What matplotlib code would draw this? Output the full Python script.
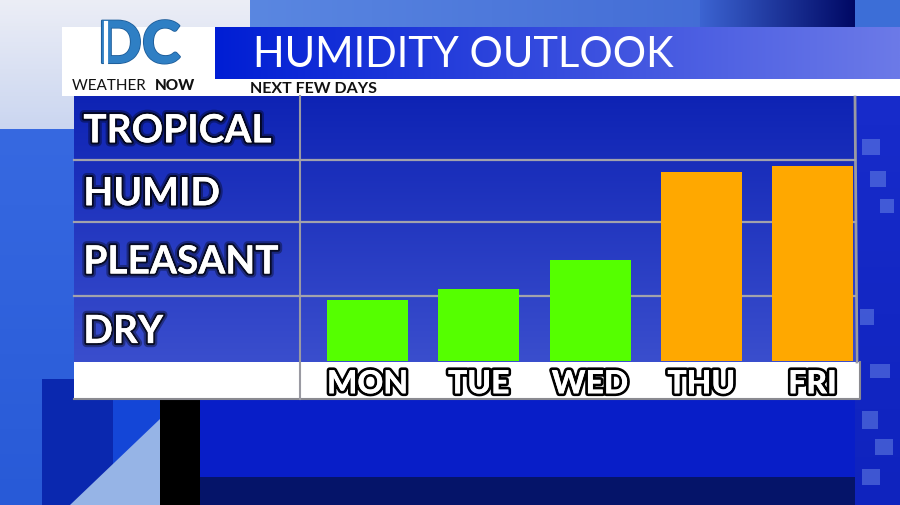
import numpy as np
import matplotlib
matplotlib.use('Agg')
import matplotlib.pyplot as plt
from matplotlib import patheffects as pe
from matplotlib.patches import Rectangle, Polygon

days = ['MON', 'TUE', 'WED', 'THU', 'FRI']
humidity = [23.0, 27.2, 38.1, 71.3, 73.6]
levels = ['DRY', 'PLEASANT', 'HUMID', 'TROPICAL']
level_edges = [0, 24.5, 52.5, 76, 100]
bar_colors = ['#55FF00', '#55FF00', '#55FF00', '#FFA800', '#FFA800']
title = 'HUMIDITY OUTLOOK'
subtitle = 'NEXT FEW DAYS'

W, H = 900, 506
fig = plt.figure(figsize=(9, 5.06), dpi=100)
bg = fig.add_axes([0, 0, 1, 1])
bg.axis('off')


def grad(x0, x1, y0, y1, c0, c1, horizontal=False, z=0):
    t = np.linspace(0, 1, 256)
    a = np.array(c0) / 255.0
    b = np.array(c1) / 255.0
    cols = a[None, :] * (1 - t[:, None]) + b[None, :] * t[:, None]
    img = cols[None, :, :] if horizontal else cols[:, None, :]
    bg.imshow(img, extent=(x0, x1, y1, y0), aspect='auto', zorder=z,
              interpolation='bilinear')


def rect(x0, y0, x1, y1, color, z=0, **kw):
    bg.add_patch(Rectangle((x0, y0), x1 - x0, y1 - y0, facecolor=color,
                           edgecolor='none', zorder=z, **kw))


# ---- background decoration ----
rect(0, 0, W, H, (12/255, 40/255, 215/255), z=0)
grad(0, 260, 0, 140, (236, 238, 246), (200, 212, 240), z=0.5)
grad(250, 855, 0, 30, (90, 135, 225), (60, 100, 210), horizontal=True, z=0.5)
grad(700, 855, 0, 30, (60, 100, 210), (0, 8, 100), horizontal=True, z=0.6)
rect(855, 0, W, 30, (60/255, 110/255, 215/255), z=0.6)
grad(0, 74, 130, 506, (55, 105, 225), (40, 90, 215), z=0.5)
rect(42, 380, 140, 506, (10/255, 40/255, 175/255), z=0.7)
rect(113, 380, 160, 506, (20/255, 70/255, 215/255), z=0.7)
bg.add_patch(Polygon([(70, 506), (160, 420), (160, 506)], closed=True,
                     facecolor=(150/255, 180/255, 230/255), edgecolor='none', zorder=0.8))
rect(160, 400, 200, 506, 'black', z=0.8)
bg.add_patch(Polygon([(200, 506), (200, 400), (855, 400), (855, 506)], closed=True,
                     facecolor=(8/255, 30/255, 200/255), edgecolor='none', zorder=0.7))
rect(200, 478, 855, 506, (5/255, 20/255, 105/255), z=0.8)
grad(855, W, 30, 506, (25, 45, 205), (15, 35, 190), z=0.6)
rng_boxes = [(862, 140, 18, 16), (870, 172, 16, 16), (880, 200, 14, 14),
             (860, 310, 14, 16), (870, 365, 20, 14), (862, 412, 16, 18),
             (875, 440, 18, 16), (862, 470, 18, 16)]
for (x, y, w, h) in rng_boxes:
    rect(x, y, x + w, y + h, (120/255, 150/255, 235/255), z=0.9, alpha=0.45)

# ---- header ----
rect(62, 28, 215, 97, 'white', z=2)
rect(215, 80, W, 97, 'white', z=2)
grad(215, W, 28, 80, (0, 30, 212), (108, 122, 232), horizontal=True, z=2)
bg.text(253, 55, title, color='white', fontsize=30, family='Lato',
        fontweight='normal', va='center', ha='left', zorder=3)
bg.text(250, 89, subtitle, color='#111111', fontsize=11.5, family='Lato',
        fontweight='bold', va='center', ha='left', zorder=3)
dc = bg.text(139, 64, 'DC', color='#2f7fc4', fontsize=42, family='Lato',
             fontweight='black', va='baseline', ha='center', zorder=3)
dc.set_path_effects([pe.withStroke(linewidth=1.5, foreground='#1f5f9c'), pe.Normal()])
bg.plot([106, 106], [24, 68], color='white', lw=3, zorder=4)
bg.text(72, 86, 'WEATHER ', color='#111111', fontsize=11, family='Lato',
        va='center', ha='left', zorder=3)
bg.text(155, 86, 'NOW', color='#111111', fontsize=11, family='Lato',
        fontweight='black', va='center', ha='left', zorder=3)

# ---- table body ----
grad(74, 855, 97, 363, (14, 35, 180), (58, 78, 205), z=1)
rect(74, 363, 860, 400, 'white', z=1.2)
bg.plot([74, 860, 860], [400, 400, 363], color='#8a8a90', lw=1.5, zorder=1.3)
bg.plot([300, 300], [97, 400], color='#9a9aa2', lw=1.5, zorder=5)
bg.plot([855, 857], [98, 363], color='#9a9aa2', lw=2, zorder=5)
bg.set_xlim(0, W)
bg.set_ylim(H, 0)

# ---- chart ----
ax = fig.add_axes([300/W, (H - 362)/H, 555/W, 265/H])
ax.patch.set_alpha(0)
ax.bar(range(len(days)), humidity, width=0.728, color=bar_colors, zorder=3)
ax.set_xlim(-0.607, 4.382)
ax.set_ylim(level_edges[0], level_edges[-1])
for e in level_edges[1:-1]:
    ax.axhline(e, xmin=(74 - 300)/555, xmax=1, color='#a2a2ac', lw=1.6,
               clip_on=False, zorder=2)
for s in ax.spines.values():
    s.set_visible(False)

centers = [(a + b) / 2 for a, b in zip(level_edges[:-1], level_edges[1:])]
ax.set_yticks(centers, levels)
ax.tick_params(axis='y', length=0, pad=156)
for lbl in ax.get_yticklabels():
    lbl.set_ha('left')
    lbl.set_color('white')
    lbl.set_fontsize(28)
    lbl.set_family('Lato')
    lbl.set_fontweight('bold')
    lbl.set_path_effects([pe.withStroke(linewidth=6, foreground=(0, 0, 0, 0.35)),
                          pe.withStroke(linewidth=3, foreground=(0, 0, 0, 0.7)),
                          pe.Normal()])

ax.set_xticks(range(len(days)), days)
ax.tick_params(axis='x', length=0, pad=6)
for lbl in ax.get_xticklabels():
    lbl.set_color('white')
    lbl.set_fontsize(23)
    lbl.set_family('Lato')
    lbl.set_fontweight('black')
    lbl.set_path_effects([pe.withStroke(linewidth=4, foreground='black'),
                          pe.Normal()])

fig.savefig('out.png', dpi=100)
